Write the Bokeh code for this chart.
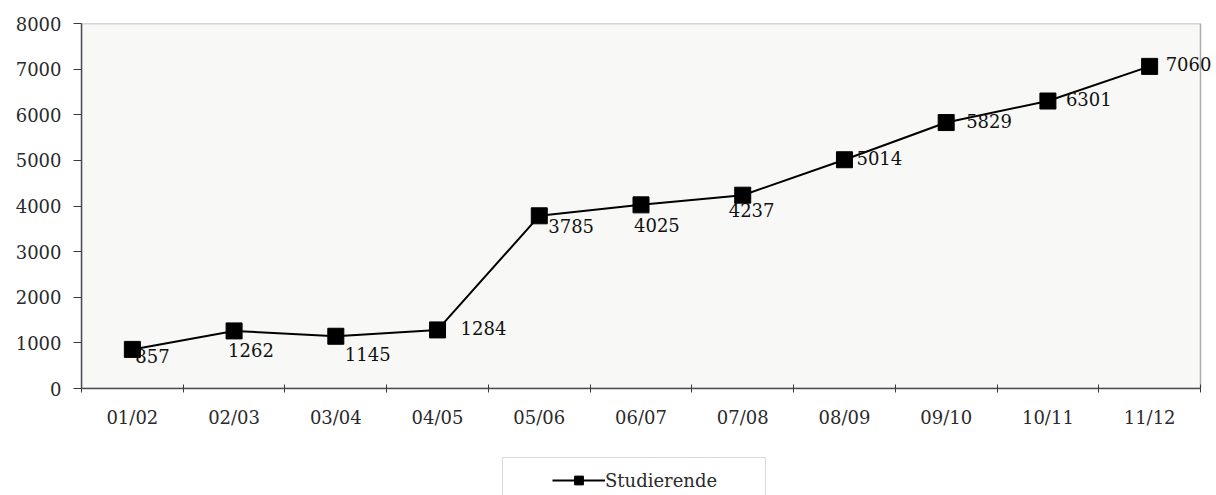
from bokeh.plotting import figure
from bokeh.layouts import column
from bokeh.models import (ColumnDataSource, FixedTicker, Legend, LegendItem,
                          Range1d, LabelSet)
from bokeh.core.properties import value
from bokeh.embed import file_html
from bokeh.resources import INLINE

# Studierende je Studienjahr
years = ["01/02", "02/03", "03/04", "04/05", "05/06", "06/07",
         "07/08", "08/09", "09/10", "10/11", "11/12"]
students = [857, 1262, 1145, 1284, 3785, 4025, 4237, 5014, 5829, 6301, 7060]
y_ticks = [0, 1000, 2000, 3000, 4000, 5000, 6000, 7000, 8000]

# label placement next to each marker (pixels), like the spreadsheet layout
label_dx = [3, -6, 9, 23, 9, -7, -14, 12, 20, 18, 16]
label_dy = [0, -12, -11, 9, -3, -13, -8, 9, 9, 9, 9]

FONT = "DejaVu Serif"
TEXT = "#2a2a2a"

W = 1216
LEFT = 81
RIGHT_GAP = 16          # white space between the plot box and the page edge
Y_MAX = 8000

n = len(years)
xs = [i + 0.5 for i in range(n)]
src = ColumnDataSource(dict(x=xs, y=students, lab=[str(v) for v in students],
                            dx=label_dx, dy=label_dy))

# the frame runs to the page edge so the last value label is not cut;
# the plot box itself is drawn from 0..n
x_end = n * (W - LEFT) / (W - LEFT - RIGHT_GAP)
p = figure(width=W, height=440, output_backend="svg", toolbar_location=None,
           x_range=Range1d(0, x_end), y_range=Range1d(0, Y_MAX),
           min_border_left=LEFT, min_border_right=0, min_border_top=23,
           min_border_bottom=52)

p.background_fill_color = "white"
p.border_fill_color = "white"
p.outline_line_color = None
p.xgrid.visible = False
p.ygrid.visible = False

p.quad(left=[0], right=[n], bottom=[0], top=[Y_MAX],
       fill_color="#f8f8f7", line_color="#a9adb0", line_width=1.5)

line_r = p.line("x", "y", source=src, line_color="black", line_width=2)
mark_r = p.scatter("x", "y", source=src, marker="square", size=16,
                   fill_color="black", line_color="black")

labels = LabelSet(x="x", y="y", text="lab", source=src,
                  x_offset="dx", y_offset="dy",
                  text_align="left", text_baseline="top",
                  text_font=value(FONT), text_font_size=value("18px"),
                  text_color="#111111")
p.add_layout(labels)

# x axis: labels at category centres, small ticks at the boundaries
xa = p.xaxis[0]
xa.bounds = (0, n)
xa.ticker = FixedTicker(ticks=xs, minor_ticks=list(range(n + 1)))
xa.major_label_overrides = {x: lab for x, lab in zip(xs, years)}
xa.major_tick_line_color = None
xa.major_tick_out = 0
xa.major_tick_in = 0
xa.minor_tick_in = 4
xa.minor_tick_out = 4
xa.minor_tick_line_color = "#3a3a3a"
xa.axis_line_color = "#4a4f55"
xa.axis_line_width = 1.5
xa.major_label_standoff = 14
xa.major_label_text_font = FONT
xa.major_label_text_font_size = "18px"
xa.major_label_text_color = TEXT

ya = p.yaxis[0]
ya.ticker = FixedTicker(ticks=y_ticks)
ya.minor_tick_line_color = None
ya.major_tick_in = 0
ya.major_tick_out = 8
ya.major_tick_line_color = "#3a3a3a"
ya.axis_line_color = "#4a4f55"
ya.axis_line_width = 1.5
ya.major_label_standoff = 12
ya.major_label_text_font = FONT
ya.major_label_text_font_size = "18px"
ya.major_label_text_color = TEXT

# legend strip below the chart (its frame lines up with the chart's frame)
q = figure(width=W, height=55, output_backend="svg", toolbar_location=None,
           x_range=Range1d(0, 1), y_range=Range1d(0, 1),
           min_border_left=0, min_border_right=0, min_border_top=0,
           min_border_bottom=0)
q.axis.visible = False
q.grid.visible = False
q.outline_line_color = None
q.background_fill_color = "white"
q.border_fill_color = "white"

# key swatches, kept outside the strip's visible range
blank = q.scatter([5], [5], marker="square", size=1, fill_alpha=0, line_alpha=0)
k_line = q.line([5, 6], [5, 5], line_color="black", line_width=2)
k_mark = q.scatter([5], [5], marker="square", size=10, fill_color="black",
                   line_color="black")

box = Legend(items=[LegendItem(label=" ", renderers=[blank])],
             location=(421, -6), padding=0, margin=0, spacing=0,
             glyph_width=262, glyph_height=42, label_width=0, label_standoff=0,
             label_text_font_size="1px", border_line_color="#b5b8ba",
             border_line_width=1, background_fill_color="white",
             background_fill_alpha=1)
q.add_layout(box, "center")

leg = Legend(items=[LegendItem(label="Studierende", renderers=[k_line, k_mark])],
             location=(471, 4), padding=0, margin=0, spacing=0,
             glyph_width=53, glyph_height=22, label_height=22, label_standoff=0,
             label_text_font=FONT, label_text_font_size="18px",
             label_text_color=TEXT, border_line_alpha=0,
             background_fill_alpha=0)
q.add_layout(leg, "center")

open("out.html", "w").write(file_html(column(p, q, spacing=0), INLINE))
